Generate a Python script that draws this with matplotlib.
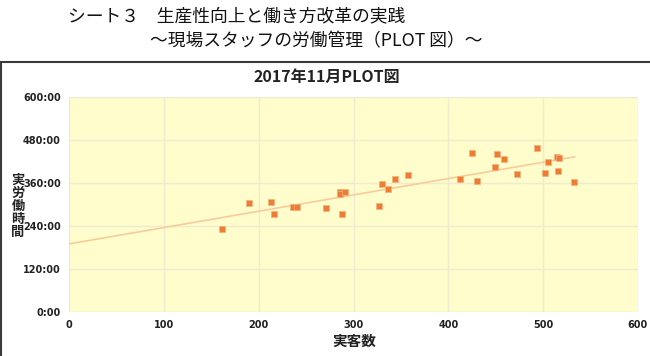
import numpy as np
import matplotlib
matplotlib.use("Agg")
import matplotlib.pyplot as plt
from matplotlib.patches import Rectangle
from matplotlib.ticker import FuncFormatter

plt.rcParams['font.family'] = ['Noto Sans CJK JP', 'DejaVu Sans']

# 実客数 (visitors) and 実労働時間 (hours)
visitors = [161, 190, 213, 216, 236, 240, 271, 286, 286, 291, 288, 327, 330, 336, 344, 357,
            412, 425, 430, 449, 451, 459, 472, 493, 502, 505, 515, 517, 516, 533]
hours = [231, 305, 307, 273, 292, 293, 289, 336, 329, 334, 273, 297, 357, 343, 371, 382,
         372, 445, 365, 406, 441, 428, 385, 459, 389, 419, 434, 431, 395, 362]
xticks = [0, 100, 200, 300, 400, 500, 600]
yticks = [0, 120, 240, 360, 480, 600]
ylabel = "実労働時間"

fig = plt.figure(figsize=(6.5, 3.56), dpi=100)
fig.patch.set_facecolor("white")

# chart frame
fig.patches.append(Rectangle((0.002, -0.05), 1.05, 0.876, transform=fig.transFigure,
                             fill=False, edgecolor="#3a3a3a", linewidth=1.5))

fig.text(68/650, 1-16/356, "シート３　生産性向上と働き方改革の実践", fontsize=12.8,
         va="center", ha="left", color="#111111")
fig.text(150/650, 1-41/356, "～現場スタッフの労働管理（PLOT 図）～", fontsize=12.8,
         va="center", ha="left", color="#111111")

ax = fig.add_axes([69/650, 1-311.7/356, (638-69)/650, (311.7-97.3)/356])
ax.set_facecolor("#FFFDCC")

x = np.array(visitors, dtype=float)
y = np.array(hours, dtype=float)
k, b = np.polyfit(x, y, 1)
xl = np.array([0, x.max()])
ax.plot(xl, k*xl + b, color="#F9CB9C", linewidth=1.2, zorder=2)
ax.scatter(x, y, marker="s", s=22, color="#ED7D31", edgecolors="#F4B183", linewidths=0.5, zorder=3)

ax.set_xlim(0, 600)
ax.set_ylim(0, 600)
ax.set_xticks(xticks)
ax.set_yticks(yticks)
ax.yaxis.set_major_formatter(FuncFormatter(lambda v, p: "%d:00" % v))
ax.grid(True, color="#EDEBD0", linewidth=1)
ax.set_axisbelow(True)
for s in ax.spines.values():
    s.set_visible(False)
ax.tick_params(length=0, labelsize=7, pad=6)
for lab in ax.get_xticklabels() + ax.get_yticklabels():
    lab.set_fontweight("bold")
    lab.set_family("DejaVu Sans")
    lab.set_color("#222222")

fig.text(327/650, 1-77/356, "2017年11月PLOT図", fontsize=11.5, fontweight="bold",
         ha="center", va="center", color="#222222")
# vertical (stacked) y label
for i, ch in enumerate(ylabel):
    fig.text(18/650, 1-(180 + 13*i)/356, ch, fontsize=9.5, fontweight="bold",
             ha="center", va="center", color="#222222")
fig.text(354/650, 1-341/356, "実客数", fontsize=10.5, fontweight="bold",
         ha="center", va="center", color="#222222")

fig.savefig("out.png", dpi=100)
